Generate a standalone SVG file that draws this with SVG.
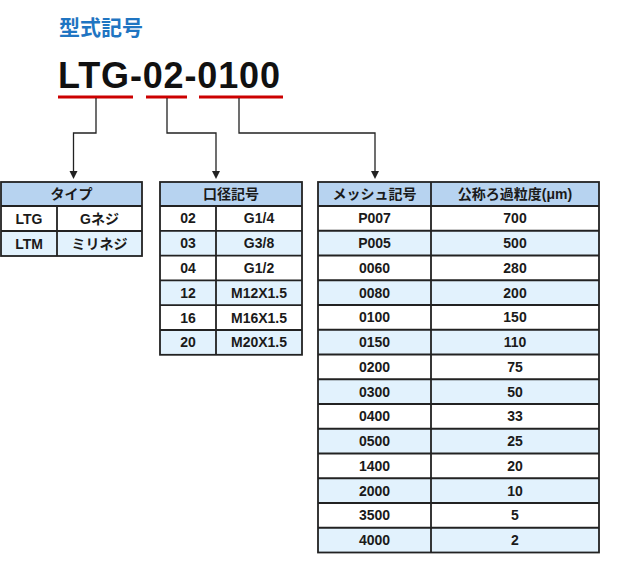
<svg xmlns="http://www.w3.org/2000/svg" width="628" height="588" viewBox="0 0 628 588">
<defs>
<style>
.t{font-family:"Liberation Sans","Noto Sans CJK JP",sans-serif;font-weight:bold;font-size:14px;fill:#1a1a1a;text-anchor:middle}
.hd{fill:#b7d3f0}
.alt{fill:#e2f2fd}
.wh{fill:#ffffff}
.ln{stroke:#222;stroke-width:1.8;fill:none}
.cn{stroke:#222;stroke-width:1.3;fill:none}
.ul{fill:#cc0000}
</style>
<marker id="ah" markerUnits="userSpaceOnUse" markerWidth="10" markerHeight="10" viewBox="0 0 10 10" refX="5" refY="9" orient="auto-start-reverse">
<path d="M1,2 L9,2 L5,9 Z" fill="#222" transform="rotate(-90 5 5)"/>
</marker>
</defs>
<rect width="628" height="588" fill="#fff"/>
<g id="title">
<text x="59" y="35" style="font-family:'Noto Sans CJK JP',sans-serif;font-weight:bold;font-size:21px;fill:#1f75c2">型式記号</text>
</g>
<g id="model">
<text x="58" y="88" textLength="222" lengthAdjust="spacing" style="font-family:'Liberation Sans',sans-serif;font-weight:bold;font-size:36px;fill:#111">LTG-02-0100</text>
<rect class="ul" x="58" y="95.5" width="75" height="3"/>
<rect class="ul" x="146" y="95.5" width="41" height="3"/>
<rect class="ul" x="199" y="95.5" width="84" height="3"/>
</g>
<g id="connectors">
<path class="cn" d="M96 98 V133 H73.5 V172"/>
<path class="cn" d="M167 98 V133 H216 V172"/>
<path class="cn" d="M239 98 V133 H375 V172"/>
<polygon points="69.5,171 77.5,171 73.5,179" fill="#222"/>
<polygon points="212,171 220,171 216,179" fill="#222"/>
<polygon points="371,171 379,171 375,179" fill="#222"/>
</g>
<g id="type-table">
<rect class="hd" x="1" y="182" width="141" height="24"/>
<rect class="wh" x="1" y="206" width="141" height="25"/>
<rect class="alt" x="1" y="231" width="141" height="25"/>
<rect class="ln" x="1" y="182" width="141" height="74"/>
<path class="ln" d="M1 206 H142 M1 231 H142 M57 206 V256"/>
<text class="t" x="71.5" y="199">タイプ</text>
<text class="t" x="29" y="223.5">LTG</text>
<text class="t" x="99.5" y="223.5">Gネジ</text>
<text class="t" x="29" y="248.5">LTM</text>
<text class="t" x="99.5" y="248.5">ミリネジ</text>
</g>
<g id="port-table">
<rect class="hd" x="160" y="182" width="142" height="24"/>
<rect class="wh" x="160" y="206" width="142" height="24.8"/>
<rect class="alt" x="160" y="230.8" width="142" height="24.8"/>
<rect class="wh" x="160" y="255.6" width="142" height="24.8"/>
<rect class="alt" x="160" y="280.4" width="142" height="24.8"/>
<rect class="wh" x="160" y="305.2" width="142" height="24.8"/>
<rect class="alt" x="160" y="330" width="142" height="24.8"/>
<rect class="ln" x="160" y="182" width="142" height="172.8"/>
<path class="ln" d="M160 206 H302 M160 230.8 H302 M160 255.6 H302 M160 280.4 H302 M160 305.2 H302 M160 330 H302 M216 206 V354.8"/>
<text class="t" x="231" y="199">口径記号</text>
<text class="t" x="188" y="223.4">02</text><text class="t" x="259" y="223.4">G1/4</text>
<text class="t" x="188" y="248.2">03</text><text class="t" x="259" y="248.2">G3/8</text>
<text class="t" x="188" y="273">04</text><text class="t" x="259" y="273">G1/2</text>
<text class="t" x="188" y="297.8">12</text><text class="t" x="259" y="297.8">M12X1.5</text>
<text class="t" x="188" y="322.6">16</text><text class="t" x="259" y="322.6">M16X1.5</text>
<text class="t" x="188" y="347.4">20</text><text class="t" x="259" y="347.4">M20X1.5</text>
</g>
<g id="mesh-table">
<rect class="hd" x="318" y="182" width="281" height="24"/>
<rect class="wh" x="318" y="206" width="281" height="24.75"/>
<rect class="alt" x="318" y="230.75" width="281" height="24.75"/>
<rect class="wh" x="318" y="255.5" width="281" height="24.75"/>
<rect class="alt" x="318" y="280.25" width="281" height="24.75"/>
<rect class="wh" x="318" y="305" width="281" height="24.75"/>
<rect class="alt" x="318" y="329.75" width="281" height="24.75"/>
<rect class="wh" x="318" y="354.5" width="281" height="24.75"/>
<rect class="alt" x="318" y="379.25" width="281" height="24.75"/>
<rect class="wh" x="318" y="404" width="281" height="24.75"/>
<rect class="alt" x="318" y="428.75" width="281" height="24.75"/>
<rect class="wh" x="318" y="453.5" width="281" height="24.75"/>
<rect class="alt" x="318" y="478.25" width="281" height="24.75"/>
<rect class="wh" x="318" y="503" width="281" height="24.75"/>
<rect class="alt" x="318" y="527.75" width="281" height="24.75"/>
<rect class="ln" x="318" y="182" width="281" height="370.5"/>
<path class="ln" d="M318 206 H599 M318 230.75 H599 M318 255.5 H599 M318 280.25 H599 M318 305 H599 M318 329.75 H599 M318 354.5 H599 M318 379.25 H599 M318 404 H599 M318 428.75 H599 M318 453.5 H599 M318 478.25 H599 M318 503 H599 M318 527.75 H599 M431 182 V552.5"/>
<text class="t" x="374.5" y="199">メッシュ記号</text>
<text class="t" x="515" y="199">公称ろ過粒度(μm)</text>
<text class="t" x="374.5" y="223.4">P007</text><text class="t" x="515" y="223.4">700</text>
<text class="t" x="374.5" y="248.1">P005</text><text class="t" x="515" y="248.1">500</text>
<text class="t" x="374.5" y="272.9">0060</text><text class="t" x="515" y="272.9">280</text>
<text class="t" x="374.5" y="297.6">0080</text><text class="t" x="515" y="297.6">200</text>
<text class="t" x="374.5" y="322.4">0100</text><text class="t" x="515" y="322.4">150</text>
<text class="t" x="374.5" y="347.1">0150</text><text class="t" x="515" y="347.1">110</text>
<text class="t" x="374.5" y="371.9">0200</text><text class="t" x="515" y="371.9">75</text>
<text class="t" x="374.5" y="396.6">0300</text><text class="t" x="515" y="396.6">50</text>
<text class="t" x="374.5" y="421.4">0400</text><text class="t" x="515" y="421.4">33</text>
<text class="t" x="374.5" y="446.1">0500</text><text class="t" x="515" y="446.1">25</text>
<text class="t" x="374.5" y="470.9">1400</text><text class="t" x="515" y="470.9">20</text>
<text class="t" x="374.5" y="495.6">2000</text><text class="t" x="515" y="495.6">10</text>
<text class="t" x="374.5" y="520.4">3500</text><text class="t" x="515" y="520.4">5</text>
<text class="t" x="374.5" y="545.1">4000</text><text class="t" x="515" y="545.1">2</text>
</g>
</svg>
